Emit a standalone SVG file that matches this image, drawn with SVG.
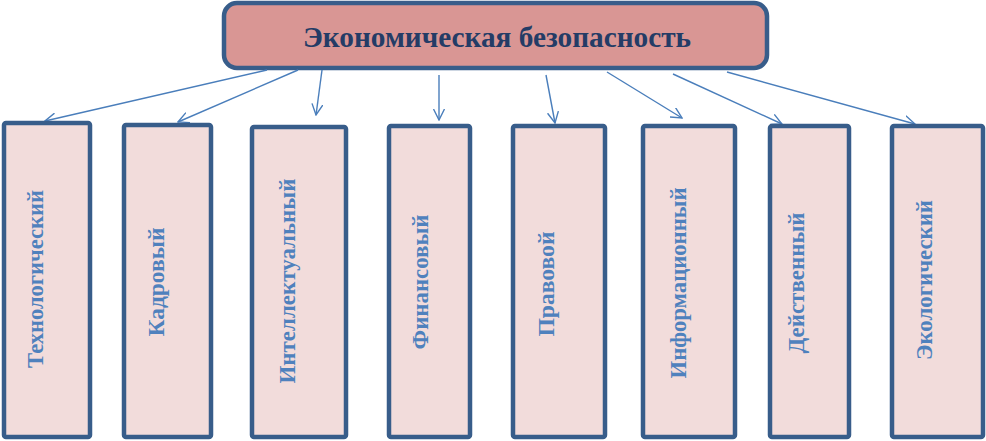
<svg xmlns="http://www.w3.org/2000/svg" width="986" height="441" viewBox="0 0 986 441">
<style>
.root rect{fill:#d99694;stroke:#385d8a;stroke-width:4.5}
.leaf rect{fill:#f2dcdb;stroke:#385d8a;stroke-width:4.5}
.title{font-family:"Liberation Serif",serif;font-weight:bold;font-size:30px;fill:#243c66}
.lbl{font-family:"Liberation Serif",serif;font-weight:bold;font-size:23px;fill:#4f81bd;text-anchor:middle}
.conn line{stroke:#4a7ebb;stroke-width:1.4;fill:none;marker-end:url(#arr)}
</style>
<defs>
<marker id="arr" viewBox="0 0 12 12" refX="11" refY="6" markerWidth="12" markerHeight="12" markerUnits="userSpaceOnUse" orient="auto">
<path d="M0,0.5 L11,6 L0,11.5" fill="none" stroke="#4a7ebb" stroke-width="1.4"/>
</marker>
</defs>
<g id="root" class="root">
<rect x="224" y="3" width="543" height="65" rx="13"/>
<text class="title" x="497" y="47" text-anchor="middle" textLength="388" lengthAdjust="spacingAndGlyphs">Экономическая безопасность</text>
</g>
<g class="conn" id="connectors">
<line x1="267" y1="70" x2="45" y2="121"/>
<line x1="298" y1="70" x2="178" y2="122"/>
<line x1="322" y1="70" x2="316" y2="115"/>
<line x1="439" y1="75" x2="439" y2="120"/>
<line x1="546" y1="75" x2="555" y2="123"/>
<line x1="607" y1="72" x2="682" y2="118"/>
<line x1="673" y1="74" x2="782" y2="124"/>
<line x1="727" y1="72" x2="915" y2="124"/>
</g>
<g id="n1" class="leaf"><rect x="4" y="123" width="86" height="314" rx="2"/>
<text class="lbl" transform="translate(43,279) rotate(-90)" textLength="178" lengthAdjust="spacingAndGlyphs">Технологический</text></g>
<g id="n2" class="leaf"><rect x="124" y="125" width="87" height="312" rx="2"/>
<text class="lbl" transform="translate(164,282) rotate(-90)" textLength="109" lengthAdjust="spacingAndGlyphs">Кадровый</text></g>
<g id="n3" class="leaf"><rect x="252" y="127" width="94" height="310" rx="2"/>
<text class="lbl" transform="translate(295,281) rotate(-90)" textLength="205" lengthAdjust="spacingAndGlyphs">Интеллектуальный</text></g>
<g id="n4" class="leaf"><rect x="389" y="126" width="81" height="311" rx="2"/>
<text class="lbl" transform="translate(428,282) rotate(-90)" textLength="135" lengthAdjust="spacingAndGlyphs">Финансовый</text></g>
<g id="n5" class="leaf"><rect x="513" y="126" width="92" height="311" rx="2"/>
<text class="lbl" transform="translate(554,284) rotate(-90)" textLength="105" lengthAdjust="spacingAndGlyphs">Правовой</text></g>
<g id="n6" class="leaf"><rect x="643" y="126" width="92" height="311" rx="2"/>
<text class="lbl" transform="translate(686,283) rotate(-90)" textLength="191" lengthAdjust="spacingAndGlyphs">Информационный</text></g>
<g id="n7" class="leaf"><rect x="770" y="126" width="79" height="311" rx="2"/>
<text class="lbl" transform="translate(804,283) rotate(-90)" textLength="141" lengthAdjust="spacingAndGlyphs">Действенный</text></g>
<g id="n8" class="leaf"><rect x="892" y="126" width="91" height="311" rx="2"/>
<text class="lbl" transform="translate(932,280) rotate(-90)" textLength="160" lengthAdjust="spacingAndGlyphs">Экологический</text></g>
</svg>
